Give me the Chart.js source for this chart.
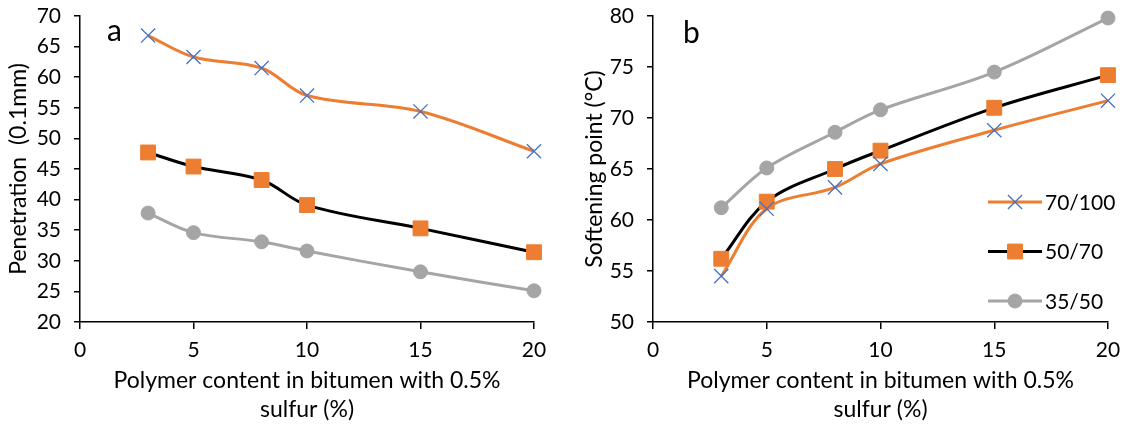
<!DOCTYPE html>
<html>
<head>
<meta charset="utf-8">
<script src="https://cdn.jsdelivr.net/npm/chart.js@4.4.1/dist/chart.umd.min.js"></script>
<style>
  html, body { margin: 0; padding: 0; background: #fff; }
  #wrap { position: relative; width: 1127px; height: 425px; }
  .pane { position: absolute; top: 0; height: 425px; }
  #pa { left: 0; width: 560px; }
  #pb { left: 560px; width: 567px; }
</style>
</head>
<body>
<div id="wrap">
  <div class="pane" id="pa"><canvas id="ca"></canvas></div>
  <div class="pane" id="pb"><canvas id="cb"></canvas></div>
</div>
<script>
// ---- data ----
const polymerContent = [3, 5, 8, 10, 15, 20];
const seriesNames = ['70/100', '50/70', '35/50'];

const penetration70_100 = [66.8, 63.3, 61.5, 57.0, 54.4, 47.9];
const penetration50_70  = [47.7, 45.4, 43.2, 39.1, 35.3, 31.4];
const penetration35_50  = [37.8, 34.6, 33.1, 31.6, 28.2, 25.1];

const softening70_100 = [54.5, 61.1, 63.2, 65.5, 68.8, 71.7];
const softening50_70  = [56.2, 61.8, 65.0, 66.8, 71.0, 74.2];
const softening35_50  = [61.2, 65.1, 68.6, 70.8, 74.5, 79.8];

const xTitle = ['Polymer content in bitumen with 0.5%', 'sulfur (%)'];
const yTitleA = 'Penetration  (0.1mm)';
const yTitleB = 'Softening point (°C)';

// ---- styles ----
const FONT = 'Lato, "Liberation Sans", sans-serif';
const ORANGE = '#ED7D31', BLUE = '#4472C4', BLACK = '#000000', GRAY = '#A5A5A5';

function pts(vals) { return polymerContent.map((x, i) => ({ x: x, y: vals[i] })); }

function makeDatasets(v1, v2, v3) {
  return [
    { label: seriesNames[0], data: pts(v1), borderColor: ORANGE, borderWidth: 3,
      pointStyle: 'crossRot', pointRadius: 10, pointBorderColor: BLUE, pointBackgroundColor: BLUE,
      pointBorderWidth: 1.3, tension: 0.35, clip: false },
    { label: seriesNames[1], data: pts(v2), borderColor: BLACK, borderWidth: 3,
      pointStyle: 'rect', pointRadius: 10.5, pointBorderColor: ORANGE, pointBackgroundColor: ORANGE,
      pointBorderWidth: 1, tension: 0.35, clip: false },
    { label: seriesNames[2], data: pts(v3), borderColor: GRAY, borderWidth: 3,
      pointStyle: 'circle', pointRadius: 7, pointBorderColor: GRAY, pointBackgroundColor: GRAY,
      pointBorderWidth: 1, tension: 0.35, clip: false }
  ];
}

const panelLabel = {
  id: 'panelLabel',
  afterDraw(chart, args, opts) {
    const ctx = chart.ctx;
    ctx.save();
    ctx.font = '30px ' + FONT;
    ctx.fillStyle = '#000';
    ctx.textBaseline = 'middle';
    ctx.fillText(opts.text, opts.x, opts.y);
    ctx.restore();
  }
};

const lineLegend = {
  id: 'lineLegend',
  afterDraw(chart, args, opts) {
    if (!opts.show) return;
    const ctx = chart.ctx;
    ctx.save();
    chart.data.datasets.forEach((ds, i) => {
      const y = opts.y + i * opts.gap;
      ctx.strokeStyle = ds.borderColor;
      ctx.lineWidth = 3;
      ctx.beginPath();
      ctx.moveTo(opts.x, y);
      ctx.lineTo(opts.x + 54, y);
      ctx.stroke();
      ctx.fillStyle = ds.pointBackgroundColor;
      ctx.strokeStyle = ds.pointBorderColor;
      ctx.lineWidth = ds.pointBorderWidth;
      Chart.helpers.drawPoint(ctx, { pointStyle: ds.pointStyle, radius: ds.pointRadius, rotation: 0, borderWidth: ds.pointBorderWidth }, opts.x + 27, y);
      ctx.fillStyle = '#000';
      ctx.font = '21px ' + FONT;
      ctx.textBaseline = 'middle';
      ctx.fillText(ds.label, opts.x + 57, y + 1);
    });
    ctx.restore();
  }
};

function makeChart(canvasId, datasets, yMin, yMax, yTitle, yWidth, yTitlePad, label, legendOpts, rightPad) {
  return new Chart(document.getElementById(canvasId), {
    type: 'line',
    data: { datasets: datasets },
    plugins: [panelLabel, lineLegend],
    options: {
      responsive: true,
      maintainAspectRatio: false,
      animation: false,
      layout: { padding: { top: 16, right: rightPad, bottom: 0, left: 0 } },
      plugins: {
        legend: { display: false },
        tooltip: { enabled: false },
        panelLabel: label,
        lineLegend: legendOpts
      },
      scales: {
        x: {
          type: 'linear', min: 0, max: 20,
          ticks: { stepSize: 5, color: '#000', font: { family: FONT, size: 21 }, padding: 9, maxRotation: 0 },
          grid: { drawOnChartArea: false, drawTicks: true, tickLength: 7, color: '#000', lineWidth: 1.5 },
          border: { display: true, color: '#000', width: 1.5 },
          title: { display: true, text: xTitle, color: '#000', font: { family: FONT, size: 23, lineHeight: 1.26 }, padding: { top: 0, bottom: 1 } },
          afterFit(scale) { scale.height = 103; scale.paddingLeft = 0; scale.paddingRight = 0; }
        },
        y: {
          min: yMin, max: yMax,
          ticks: { stepSize: 5, color: '#000', font: { family: FONT, size: 21 }, padding: 13 },
          grid: { drawOnChartArea: false, drawTicks: true, tickLength: 6, color: '#000', lineWidth: 1.5 },
          border: { display: true, color: '#000', width: 1.5 },
          title: { display: true, text: yTitle, color: '#000', font: { family: FONT, size: 23, lineHeight: 1.2 }, padding: { top: yTitlePad, bottom: 0 } },
          afterFit(scale) { scale.width = yWidth; scale.paddingTop = 0; scale.paddingBottom = 0; }
        }
      }
    }
  });
}

makeChart('ca', makeDatasets(penetration70_100, penetration50_70, penetration35_50),
  20, 70, yTitleA, 80, 5, { text: 'a', x: 107, y: 31 }, { show: false }, 26);
makeChart('cb', makeDatasets(softening70_100, softening50_70, softening35_50),
  50, 80, yTitleB, 93, 21, { text: 'b', x: 123, y: 33 }, { show: true, x: 428, y: 202, gap: 49.5 }, 19);
</script>
</body>
</html>
